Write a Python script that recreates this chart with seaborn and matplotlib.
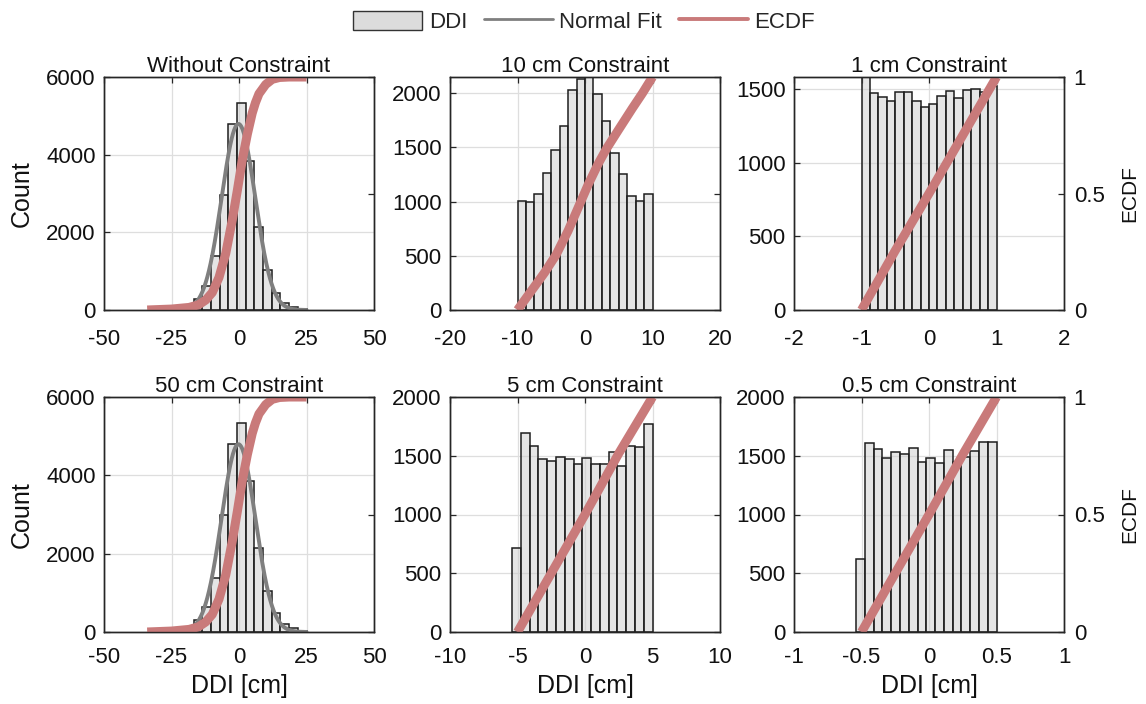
import numpy as np
import pandas as pd
import matplotlib
matplotlib.use("Agg")
import matplotlib.pyplot as plt
from matplotlib.ticker import FuncFormatter, FixedLocator
from matplotlib.patches import Patch
from matplotlib.lines import Line2D
import seaborn as sns

# ---------------------------------------------------------------- data
# Histogram bins: first edge, bin width, counts per bin
wo_start, wo_width = -20.0, 45.0 / 14
wo_counts = [45, 275, 620, 1400, 2955, 4800, 5340, 3840, 2143, 1029, 446, 171, 69, 34]

c50_start, c50_width = -20.0, 45.0 / 14
c50_counts = [60, 300, 650, 1380, 2990, 4810, 5340, 3845, 2150, 1040, 480, 200, 90, 30]

c10_start, c10_width = -10.0, 1.25
c10_counts = [1006, 1000, 1070, 1268, 1477, 1700, 2030, 2132, 2160, 1990, 1745,
              1452, 1252, 1052, 1009, 1070]

c5_start, c5_width = -5.4, 0.65
c5_counts = [714, 1694, 1580, 1471, 1457, 1486, 1471, 1429, 1477, 1429, 1434,
             1529, 1414, 1586, 1571, 1766]

c1_start, c1_width = -1.0, 0.125
c1_counts = [1650, 1471, 1441, 1419, 1475, 1475, 1414, 1374, 1396, 1448, 1482,
             1437, 1491, 1498, 1475, 1520]

c05_start, c05_width = -0.54, 0.065
c05_counts = [620, 1606, 1557, 1483, 1529, 1514, 1566, 1451, 1477, 1437, 1551,
              1443, 1491, 1537, 1614, 1614]

# Normal fit parameters (mean, standard deviation) for the unconstrained cases
wo_fit = (-0.2, 6.2)
c50_fit = (-0.2, 6.25)

# Empirical CDF curves (DDI value, cumulative fraction)
wo_ecdf_x = [-34, -25, -18.5, -15, -12.3, -9.9, -7.4, -4.9, -2.5, -0.6, 1.2, 3.1,
             4.9, 6.1, 7.4, 9.9, 12.3, 15, 18.5, 25]
wo_ecdf_f = [0, 0.004, 0.011, 0.022, 0.043, 0.075, 0.14, 0.243, 0.386, 0.514, 0.643,
             0.755, 0.845, 0.89, 0.928, 0.968, 0.99, 0.998, 1.0, 1.0]
c50_ecdf_x = wo_ecdf_x
c50_ecdf_f = wo_ecdf_f
c10_ecdf_x = [-10, -8, -6, -4.3, -2.5, -1, 0.5, 2, 3.2, 5, 7, 8.5, 10]
c10_ecdf_f = [0, 0.08, 0.16, 0.236, 0.34, 0.44, 0.54, 0.63, 0.693, 0.775, 0.865, 0.93, 1.0]
c5_ecdf_x = [-5, -2.5, 0, 2.5, 5]
c5_ecdf_f = [0, 0.25, 0.5, 0.76, 1.0]
c1_ecdf_x = [-1, -0.5, 0, 0.5, 1]
c1_ecdf_f = [0, 0.255, 0.5, 0.75, 1.0]
c05_ecdf_x = [-0.5, -0.25, 0, 0.25, 0.5]
c05_ecdf_f = [0, 0.25, 0.5, 0.755, 1.0]

titles = ["Without Constraint", "10 cm Constraint", "1 cm Constraint",
          "50 cm Constraint", "5 cm Constraint", "0.5 cm Constraint"]
x_ticks = [[-50, -25, 0, 25, 50], [-20, -10, 0, 10, 20], [-2, -1, 0, 1, 2],
           [-50, -25, 0, 25, 50], [-10, -5, 0, 5, 10], [-1, -0.5, 0, 0.5, 1]]
y_ticks = [[0, 2000, 4000, 6000], [0, 500, 1000, 1500, 2000], [0, 500, 1000, 1500],
           [0, 2000, 4000, 6000], [0, 500, 1000, 1500, 2000], [0, 500, 1000, 1500, 2000]]
y_tops = [6000, 2150, 1580, 6000, 2000, 2000]
ecdf_ticks = [0, 0.5, 1]

panels = [
    (wo_start, wo_width, wo_counts, wo_fit, wo_ecdf_x, wo_ecdf_f),
    (c10_start, c10_width, c10_counts, None, c10_ecdf_x, c10_ecdf_f),
    (c1_start, c1_width, c1_counts, None, c1_ecdf_x, c1_ecdf_f),
    (c50_start, c50_width, c50_counts, c50_fit, c50_ecdf_x, c50_ecdf_f),
    (c5_start, c5_width, c5_counts, None, c5_ecdf_x, c5_ecdf_f),
    (c05_start, c05_width, c05_counts, None, c05_ecdf_x, c05_ecdf_f),
]

# ---------------------------------------------------------------- style
sns.set_theme(style="white")
plt.rcParams["font.family"] = ["Liberation Sans", "DejaVu Sans"]
plt.rcParams["axes.unicode_minus"] = False

BAR_FACE = "#cccccc"
BAR_EDGE = "#1e1e1e"
FIT_COLOR = "#7f7f7f"
ECDF_COLOR = "#c97a7a"
AXIS_COLOR = "#262626"
GRID_COLOR = "#dedede"
TEXT_COLOR = "#111111"

W, H = 1146, 704
fig = plt.figure(figsize=(W / 100, H / 100), dpi=100)

col_left = [104, 450, 794]
col_width = 270
row_top = [77, 397]
row_height = [233, 235]
x_pad = [14, 11]

fmt = FuncFormatter(lambda v, _: f"{v:g}")

for i, (start, width, counts, fit, ex, ef) in enumerate(panels):
    r, c = divmod(i, 3)
    left = col_left[c] / W
    bottom = 1 - (row_top[r] + row_height[r]) / H
    ax = fig.add_axes([left, bottom, col_width / W, row_height[r] / H])

    edges = start + width * np.arange(len(counts) + 1)
    hist_df = pd.DataFrame({"ddi": edges[:-1] + width / 2, "n": counts})
    sns.histplot(data=hist_df, x="ddi", weights="n", bins=list(edges), ax=ax,
                 stat="count", color=BAR_FACE, edgecolor=BAR_EDGE,
                 linewidth=1.1, alpha=0.5)

    if fit is not None:
        mu, sd = fit
        xs = np.linspace(edges[0], edges[-1], 300)
        scale = sum(counts) * width
        ys = scale * np.exp(-0.5 * ((xs - mu) / sd) ** 2) / (sd * np.sqrt(2 * np.pi))
        sns.lineplot(x=xs, y=ys, ax=ax, color=FIT_COLOR, linewidth=2.8)

    xt = x_ticks[i]
    ax.set_xlim(xt[0], xt[-1])
    ax.set_ylim(0, y_tops[i])
    ax.xaxis.set_major_locator(FixedLocator(xt))
    ax.yaxis.set_major_locator(FixedLocator(y_ticks[i]))
    ax.xaxis.set_major_formatter(fmt)
    ax.yaxis.set_major_formatter(fmt)
    ax.set_axisbelow(True)
    ax.grid(True, color=GRID_COLOR, linewidth=0.9)
    ax.tick_params(direction="in", length=4, width=0.9, color=AXIS_COLOR,
                   labelsize=16, labelcolor=TEXT_COLOR, top=True)
    ax.tick_params(axis="x", pad=x_pad[r])
    ax.tick_params(axis="y", pad=6)
    for s in ax.spines.values():
        s.set_color(AXIS_COLOR)
        s.set_linewidth(1.0)
    ax.set_title(titles[i], fontsize=16, pad=3, color=TEXT_COLOR)
    ax.set_ylabel("")
    ax.set_xlabel("")
    if c == 0:
        ax.set_ylabel("Count", fontsize=18, color=TEXT_COLOR)
        ax.yaxis.set_label_coords(-70 / col_width, 0.5)
    if r == 1:
        ax.set_xlabel("DDI [cm]", fontsize=18, color=TEXT_COLOR, labelpad=4)

    ax2 = ax.twinx()
    sns.lineplot(x=ex, y=ef, ax=ax2, color=ECDF_COLOR, linewidth=6.5,
                 sort=False, estimator=None, solid_capstyle="butt")
    ax2.set_ylim(0, 1)
    ax2.yaxis.set_major_locator(FixedLocator(ecdf_ticks))
    ax2.yaxis.set_major_formatter(fmt)
    ax2.tick_params(direction="in", length=4, width=0.9, color=AXIS_COLOR,
                    labelsize=16, labelcolor=TEXT_COLOR, pad=7)
    ax2.grid(False)
    for s in ax2.spines.values():
        s.set_color(AXIS_COLOR)
        s.set_linewidth(1.0)
    if c == 2:
        ax2.set_ylabel("ECDF", fontsize=15, color=TEXT_COLOR)
        ax2.yaxis.set_label_coords(1 + 56 / col_width, 0.5)
    else:
        ax2.set_ylabel("")
        ax2.tick_params(labelright=False)

handles = [
    Patch(facecolor="#dcdcdc", edgecolor="#333333", linewidth=1.0),
    Line2D([], [], color=FIT_COLOR, linewidth=2.0),
    Line2D([], [], color=ECDF_COLOR, linewidth=2.8),
]
fig.legend(handles, ["DDI", "Normal Fit", "ECDF"], loc="center",
           bbox_to_anchor=(584 / W, 1 - 22 / H), ncol=3, frameon=False,
           fontsize=16, handlelength=3.1, handleheight=0.95,
           handletextpad=0.3, columnspacing=0.75)

fig.savefig("out.png", dpi=100)
